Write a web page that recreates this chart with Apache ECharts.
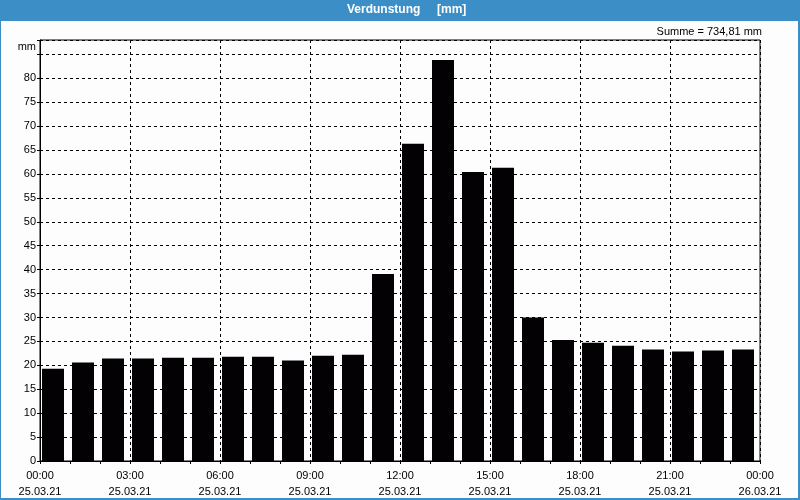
<!DOCTYPE html>
<html>
<head>
<meta charset="utf-8">
<script src="https://cdn.jsdelivr.net/npm/echarts@6/dist/echarts.min.js"></script>
<style>
html,body{margin:0;padding:0;background:#fcfdfc;}
#chart{width:800px;height:500px;}
</style>
</head>
<body>
<div id="chart"></div>
<script>
// ---- data ----
var hours = ['00','01','02','03','04','05','06','07','08','09','10','11','12','13','14','15','16','17','18','19','20','21','22','23'];
var values = [19.3, 20.6, 21.4, 21.4, 21.6, 21.6, 21.8, 21.8, 21.0, 22.0, 22.2, 39.1, 66.3, 83.8, 60.4, 61.3, 30.0, 25.3, 24.7, 24.1, 23.3, 22.9, 23.1, 23.3];
var tickHours = [0, 3, 6, 9, 12, 15, 18, 21, 24];
var tickTimes = ['00:00','03:00','06:00','09:00','12:00','15:00','18:00','21:00','00:00'];
var tickDates = ['25.03.21','25.03.21','25.03.21','25.03.21','25.03.21','25.03.21','25.03.21','25.03.21','26.03.21'];
var titleText = 'Verdunstung     [mm]';
var sumText = 'Summe = 734,81 mm';
var unitText = 'mm';

var FONT = 'Liberation Sans';
var chart = echarts.init(document.getElementById('chart'), null, {renderer: 'canvas'});

var option = {
  backgroundColor: '#fcfdfc',
  animation: false,
  textStyle: {fontFamily: FONT},
  graphic: [
    {type: 'rect', left: 0, top: 0, shape: {width: 800, height: 21}, style: {fill: '#3c8fc6'}, z: 10},
    {type: 'rect', left: 0, top: 21, shape: {width: 1, height: 479}, style: {fill: '#3c8fc6'}, z: 10},
    {type: 'rect', left: 798, top: 21, shape: {width: 2, height: 479}, style: {fill: '#3c8fc6'}, z: 10},
    {type: 'rect', left: 0, top: 498, shape: {width: 800, height: 2}, style: {fill: '#3c8fc6'}, z: 10},
    {type: 'text', left: 347, top: 4, style: {text: titleText, fill: '#ffffff', font: 'bold 12px "' + FONT + '"'}, z: 11},
    {type: 'text', right: 38, top: 26, style: {text: sumText, fill: '#000000', font: '11px "' + FONT + '"'}, z: 11},
    {type: 'text', right: 764, top: 41, style: {text: unitText, fill: '#000000', font: '11px "' + FONT + '"', align: 'right'}, z: 11}
  ],
  grid: {left: 40, right: 40, top: 40, bottom: 39, show: true, borderColor: '#000', borderWidth: 1, backgroundColor: 'transparent'},
  xAxis: [
    {
      type: 'category',
      data: hours,
      boundaryGap: true,
      axisLine: {show: true, lineStyle: {color: '#000', width: 1}},
      axisTick: {show: true, interval: 0, length: 3, inside: false, lineStyle: {color: '#000'}},
      axisLabel: {show: false},
      splitLine: {show: false}
    },
    {
      type: 'value',
      min: 0, max: 24, interval: 3,
      position: 'bottom',
      axisLine: {show: false},
      axisTick: {show: false},
      splitLine: {show: true, lineStyle: {color: '#000', type: [3, 3], width: 1}},
      axisLabel: {
        show: true, margin: 7, color: '#000', fontSize: 11, fontFamily: FONT, lineHeight: 16,
        formatter: function (v) {
          var i = tickHours.indexOf(Math.round(v));
          return i >= 0 ? tickTimes[i] + '\n' + tickDates[i] : '';
        },
        showMinLabel: true, showMaxLabel: true
      }
    }
  ],
  yAxis: {
    type: 'value',
    min: 0, max: 88, interval: 5,
    axisLine: {show: true, lineStyle: {color: '#000'}},
    axisTick: {show: true, length: 3, lineStyle: {color: '#000'}},
    splitLine: {show: true, lineStyle: {color: '#000', type: [3, 3], width: 1}},
    axisLabel: {
      color: '#000', fontSize: 11, fontFamily: FONT, margin: 4,
      formatter: function (v) { return v > 80 ? '' : String(v); }
    }
  },
  series: [{
    type: 'bar',
    xAxisIndex: 0,
    data: values,
    barWidth: 22,
    barGap: '0%',
    itemStyle: {color: '#030104'},
    z: 5
  }, {
    // empty spacer so the bars sit slightly left of the slot centre, as in the reference
    type: 'bar',
    xAxisIndex: 0,
    data: [],
    barWidth: 4,
    barGap: '0%',
    silent: true
  }]
};
chart.setOption(option);
</script>
</body>
</html>
